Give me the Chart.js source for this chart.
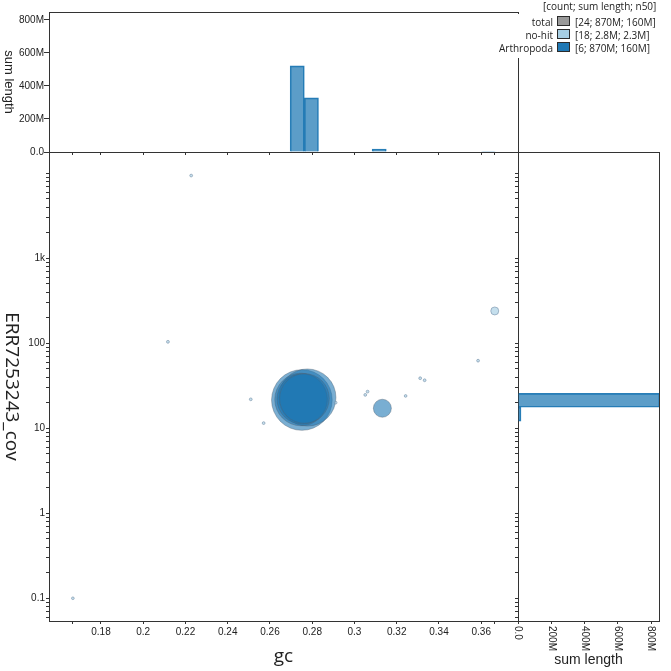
<!DOCTYPE html>
<html lang="en">
<head>
<meta charset="utf-8">
<title>ERR7253243 blob plot</title>
<script src="https://cdn.jsdelivr.net/npm/chart.js@4.4.1/dist/chart.umd.min.js"></script>
<style>
  body { margin: 0; background: #fff; }
  #plot { position: relative; width: 671px; height: 671px; overflow: hidden; }
  #plot canvas { position: absolute; left: 0; top: 0; }
  .legend { position: absolute; font-family: 'Open Sans', sans-serif; font-size: 10px; color: #222; white-space: nowrap; line-height: 12px; }
  #legend-head { left: 543px; top: 0; }
  #legend-box { left: 500px; top: 14px; width: 171px; height: 44px; background: #fff; }
  .row { position: absolute; left: 0; width: 171px; height: 12px; }
  .row .name { position: absolute; right: 118px; text-align: right; }
  .row .swatch { position: absolute; left: 57px; top: 0; width: 11px; height: 8px; border: 1.5px solid #2b2b2b; }
  .row .vals { position: absolute; left: 75px; }
</style>
</head>
<body>
<div id="plot">
  <canvas id="blobs" width="671" height="671"></canvas>
  <canvas id="gcHist" width="671" height="671"></canvas>
  <canvas id="covHist" width="671" height="671"></canvas>
  <div class="legend" id="legend-head">[count; sum length; n50]</div>
  <div class="legend" id="legend-box"></div>
</div>
<script>
// no-hit contigs: gc, coverage, length (Mb)
const noHitGc  = [0.1667, 0.2117, 0.2227, 0.2509, 0.2570, 0.2911, 0.3051, 0.3062, 0.3242, 0.3311, 0.3332, 0.3585, 0.3664];
const noHitCov = [0.1, 104, 9400, 21.9, 11.5, 20, 24.7, 27, 24, 38.8, 36.7, 62.4, 240];
const noHitLen = [0.03, 0.05, 0.04, 0.04, 0.04, 0.03, 0.04, 0.04, 0.03, 0.04, 0.04, 0.04, 2.25];

// Arthropoda contigs
const arthGc  = [0.2751, 0.2777, 0.2747, 0.2752, 0.2763, 0.3132];
const arthCov = [21.5, 23.0, 21.8, 22.1, 22.4, 17.2];
const arthLen = [215, 190, 160, 145, 142, 16];

// gc histogram (top): bin centres and summed length (Mb)
const gcBins   = [0.2729, 0.2796, 0.3117, 0.3634];
const gcBinLen = [522, 328, 18, 3];

// coverage histogram (right)
const covBins   = [21.35, 14.65];
const covBinLen = [853, 18];

const gcTicks       = [0.18, 0.2, 0.22, 0.24, 0.26, 0.28, 0.3, 0.32, 0.34, 0.36];
const covTicks      = [0.1, 1, 10, 100, 1000];
const covTickLabels = ['0.1', '1', '10', '100', '1k'];
const lenTicks      = [0, 200, 400, 600, 800];
const lenTickLabels = ['0.0', '200M', '400M', '600M', '800M'];

const legendNames  = ['total', 'no-hit', 'Arthropoda'];
const legendCounts = [24, 18, 6];
const legendSums   = ['870M', '2.8M', '870M'];
const legendN50    = ['160M', '2.3M', '160M'];

const gcRange  = [0.1554, 0.3774];
const covRange = [0.054, 17800];
const lenMax   = 848;

const AXIS = '#333';
const LABEL = '#222';
const TICK_FONT = { family: "'Liberation Sans', Arial, sans-serif", size: 10 };
const TITLE_FONT = "19px 'Open Sans', sans-serif";
const SUB_FONT = "14px 'Liberation Sans', Arial, sans-serif";
const SIDE_FONT = "13px 'Liberation Sans', Arial, sans-serif";
const HIST_FILL = 'rgba(31,120,180,0.73)';
const HIST_LINE = 'rgba(31,120,180,0.95)';
const SWATCH = ['#999999', '#a6cee3', '#1f78b4'];

// bubble radius from contig length
const radius = len => 1 + 2 * Math.sqrt(len);

const allGc = noHitGc.concat(arthGc);
const gcAxisTicks = [Math.min(...allGc), ...gcTicks, Math.max(...allGc)];

const covAxisTicks = [];
[0.01, 0.1, 1, 10, 100, 1000, 10000].forEach(d => {
    for (let k = 1; k <= 9; k++) {
        const v = k * d;
        if (v >= covRange[0] && v <= covRange[1]) covAxisTicks.push(v);
    }
});

const setTicks = list => scale => { scale.ticks = list.map(v => ({ value: v })); };

// frame lines, axis titles and rotated tick labels
const decor = {
    id: 'decor',
    afterDraw(chart, args, opts) {
        const ctx = chart.ctx;
        const a = chart.chartArea;
        ctx.save();
        ctx.strokeStyle = AXIS;
        ctx.lineWidth = 1;
        (opts.frame || []).forEach(side => {
            ctx.beginPath();
            if (side === 'top') {
                const y = Math.floor(a.top) + 0.5;
                ctx.moveTo(a.left, y);
                ctx.lineTo(a.right + 1, y);
            } else {
                const x = Math.floor(a.right) + 0.5;
                ctx.moveTo(x, a.top);
                ctx.lineTo(x, a.bottom + 1);
            }
            ctx.stroke();
        });
        ctx.fillStyle = LABEL;
        (opts.titles || []).forEach(t => {
            const [x, y] = t.at(a);
            ctx.save();
            ctx.font = t.font;
            ctx.textAlign = 'center';
            ctx.textBaseline = 'middle';
            ctx.translate(x, y);
            if (t.rotate) ctx.rotate(Math.PI / 2);
            ctx.fillText(t.text, 0, 0);
            ctx.restore();
        });
        if (opts.downTicks) {
            const s = chart.scales.x;
            ctx.font = "10px 'Liberation Sans', Arial, sans-serif";
            ctx.textAlign = 'left';
            ctx.textBaseline = 'middle';
            lenTicks.forEach((v, i) => {
                ctx.save();
                ctx.translate(s.getPixelForValue(v), a.bottom + 5);
                ctx.rotate(Math.PI / 2);
                ctx.fillText(lenTickLabels[i], 0, 0);
                ctx.restore();
            });
        }
        ctx.restore();
    }
};
Chart.register(decor);

const base = {
    responsive: false,
    animation: false,
    events: [],
};
const quiet = { legend: { display: false }, tooltip: { enabled: false } };

// main blob plot
new Chart(document.getElementById('blobs'), {
    type: 'bubble',
    data: {
        datasets: [{
            label: 'no-hit',
            data: noHitGc.map((g, i) => ({ x: g, y: noHitCov[i], r: radius(noHitLen[i]) })),
            backgroundColor: 'rgba(166,206,227,0.65)',
            borderColor: 'rgba(110,135,160,0.55)',
            borderWidth: 1,
            order: 1
        }, {
            label: 'Arthropoda',
            data: arthGc.map((g, i) => ({ x: g, y: arthCov[i], r: radius(arthLen[i]) })),
            backgroundColor: 'rgba(31,120,180,0.6)',
            borderColor: 'rgba(80,95,110,0.4)',
            borderWidth: 1,
            order: 2
        }]
    },
    options: {
        ...base,
        layout: { padding: { left: 0, top: 152, right: 153, bottom: 0 } },
        plugins: {
            ...quiet,
            decor: {
                titles: [
                    { text: 'gc', font: TITLE_FONT, at: a => [(a.left + a.right) / 2, a.bottom + 36] },
                    { text: 'ERR7253243_cov', font: TITLE_FONT, rotate: true, at: a => [11, (a.top + a.bottom) / 2] }
                ]
            }
        },
        scales: {
            x: {
                type: 'linear', position: 'bottom',
                min: gcRange[0], max: gcRange[1],
                afterBuildTicks: setTicks(gcAxisTicks),
                afterFit: s => { s.height = 50; },
                ticks: {
                    font: TICK_FONT, color: LABEL, padding: 2, maxRotation: 0, autoSkip: false,
                    callback: v => gcTicks.includes(v) ? String(v) : ''
                },
                grid: { drawOnChartArea: false, tickLength: 3, color: AXIS },
                border: { color: AXIS, width: 1 }
            },
            y: {
                type: 'logarithmic', position: 'left',
                min: covRange[0], max: covRange[1],
                afterBuildTicks: setTicks(covAxisTicks),
                afterFit: s => { s.width = 49; },
                ticks: {
                    font: TICK_FONT, color: LABEL, padding: 1, autoSkip: false,
                    callback: v => {
                        const i = covTicks.indexOf(v);
                        return i >= 0 ? covTickLabels[i] : '';
                    }
                },
                grid: { drawOnChartArea: false, tickLength: 3, color: AXIS },
                border: { color: AXIS, width: 1 }
            }
        }
    }
});

// gc histogram above
new Chart(document.getElementById('gcHist'), {
    type: 'bar',
    data: {
        datasets: [{
            data: gcBins.map((g, i) => ({ x: g, y: gcBinLen[i] })),
            xAxisID: 'xBins', yAxisID: 'y',
            backgroundColor: HIST_FILL, borderColor: HIST_LINE, borderWidth: 1,
            barPercentage: 1, categoryPercentage: 1
        }]
    },
    options: {
        ...base,
        layout: { padding: { left: 0, top: 12, right: 153, bottom: 509 } },
        plugins: {
            ...quiet,
            decor: {
                frame: ['top', 'right'],
                titles: [{ text: 'sum length', font: SIDE_FONT, rotate: true, at: a => [9, (a.top + a.bottom) / 2] }]
            }
        },
        scales: {
            x: {
                type: 'linear', position: 'bottom', offset: false,
                min: gcRange[0], max: gcRange[1],
                afterBuildTicks: setTicks(gcAxisTicks),
                afterFit: s => { s.height = 10; },
                ticks: { display: false },
                grid: { drawOnChartArea: false, offset: false, tickLength: 3, color: AXIS },
                border: { color: AXIS, width: 1 }
            },
            xBins: {
                type: 'linear', axis: 'x', position: 'bottom', display: false, offset: false,
                min: gcRange[0], max: gcRange[1],
                afterBuildTicks: s => { s.ticks = []; },
                ticks: { display: false }
            },
            y: {
                type: 'linear', position: 'left', min: 0, max: lenMax,
                afterBuildTicks: setTicks(lenTicks),
                afterFit: s => { s.width = 49; },
                ticks: {
                    font: TICK_FONT, color: LABEL, padding: 0, autoSkip: false,
                    callback: v => lenTickLabels[lenTicks.indexOf(v)]
                },
                grid: { drawOnChartArea: false, tickLength: 5, color: AXIS },
                border: { color: AXIS, width: 1 }
            }
        }
    }
});

// coverage histogram at the right
new Chart(document.getElementById('covHist'), {
    type: 'bar',
    data: {
        datasets: [{
            data: covBins.map((c, i) => ({ x: covBinLen[i], y: c })),
            xAxisID: 'x', yAxisID: 'yBins',
            backgroundColor: HIST_FILL, borderColor: HIST_LINE, borderWidth: 1,
            barPercentage: 1, categoryPercentage: 1
        }]
    },
    options: {
        ...base,
        indexAxis: 'y',
        layout: { padding: { left: 0, top: 152, right: 12, bottom: 0 } },
        plugins: {
            ...quiet,
            decor: {
                frame: ['top', 'right'],
                downTicks: true,
                titles: [{ text: 'sum length', font: SUB_FONT, at: a => [(a.left + a.right) / 2, a.bottom + 39] }]
            }
        },
        scales: {
            x: {
                type: 'linear', position: 'bottom', min: 0, max: lenMax,
                afterBuildTicks: setTicks(lenTicks),
                afterFit: s => { s.height = 50; },
                ticks: { display: false },
                grid: { drawOnChartArea: false, tickLength: 3, color: AXIS },
                border: { color: AXIS, width: 1 }
            },
            y: {
                type: 'logarithmic', position: 'left', offset: false,
                min: covRange[0], max: covRange[1],
                afterBuildTicks: setTicks(covAxisTicks),
                afterFit: s => { s.width = 518; },
                ticks: { display: false },
                grid: { drawOnChartArea: false, offset: false, tickLength: 3, color: AXIS },
                border: { color: AXIS, width: 1 }
            },
            yBins: {
                type: 'logarithmic', axis: 'y', position: 'left', display: false, offset: false,
                min: covRange[0], max: covRange[1],
                afterBuildTicks: s => { s.ticks = []; },
                ticks: { display: false }
            }
        }
    }
});

// legend
const box = document.getElementById('legend-box');
legendNames.forEach((name, i) => {
    const row = document.createElement('div');
    row.className = 'row';
    row.style.top = (2 + 13 * i) + 'px';
    row.innerHTML = '<span class="name">' + name + '</span>' +
        '<span class="swatch" style="background:' + SWATCH[i] + '"></span>' +
        '<span class="vals">[' + legendCounts[i] + '; ' + legendSums[i] + '; ' + legendN50[i] + ']</span>';
    box.appendChild(row);
});
</script>
</body>
</html>
